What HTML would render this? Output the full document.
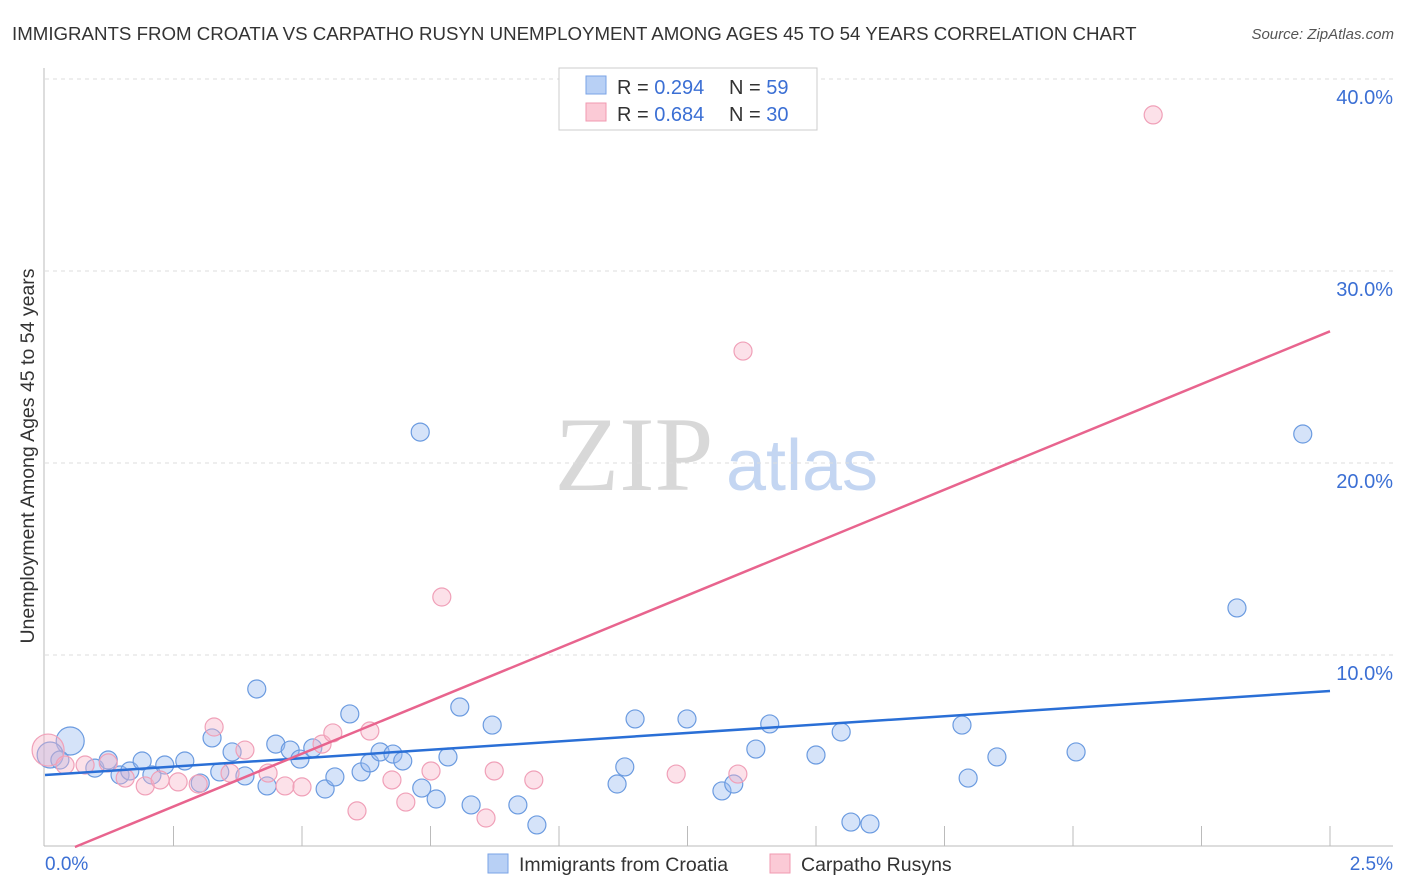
<!DOCTYPE html>
<html><head><meta charset="utf-8"><style>
body{margin:0;background:#fff;font-family:"Liberation Sans",sans-serif}
</style></head><body>
<svg id="c" width="1406" height="892" xmlns="http://www.w3.org/2000/svg" style="display:block">
<text x="12" y="40" font-size="18.7" fill="#333">IMMIGRANTS FROM CROATIA VS CARPATHO RUSYN UNEMPLOYMENT AMONG AGES 45 TO 54 YEARS CORRELATION CHART</text>
<text x="1394" y="39" font-size="15" fill="#555" font-style="italic" text-anchor="end">Source: ZipAtlas.com</text>
<g><text x="634" y="490" font-size="106" font-family="Liberation Serif,serif" fill="#d8d8d8" text-anchor="middle">ZIP</text><text x="802" y="490" font-size="72" fill="#c4d6f2" text-anchor="middle">atlas</text></g>
<text transform="translate(34,456) rotate(-90)" font-size="19.5" fill="#333" text-anchor="middle">Unemployment Among Ages 45 to 54 years</text>
<g id="grid"></g><g id="pts"></g><g id="lines"></g>
<g>
<rect x="559" y="68" width="258" height="62" fill="#fff" stroke="#ccc"/>
<rect x="586" y="76" width="20" height="18" fill="#b8d0f5" stroke="#7aa3e6"/>
<rect x="586" y="103" width="20" height="18" fill="#fbcad6" stroke="#f09ab0"/>
<text x="617" y="94" font-size="20" fill="#333">R = <tspan fill="#3b6fd4">0.294</tspan></text>
<text x="729" y="94" font-size="20" fill="#333">N = <tspan fill="#3b6fd4">59</tspan></text>
<text x="617" y="121" font-size="20" fill="#333">R = <tspan fill="#3b6fd4">0.684</tspan></text>
<text x="729" y="121" font-size="20" fill="#333">N = <tspan fill="#3b6fd4">30</tspan></text>
</g>
<g>
<rect x="488" y="854" width="20" height="19" fill="#b8d0f5" stroke="#7aa3e6"/>
<text x="519" y="871" font-size="19.5" fill="#333">Immigrants from Croatia</text>
<rect x="770" y="854" width="20" height="19" fill="#fbcad6" stroke="#f09ab0"/>
<text x="801" y="871" font-size="19.5" fill="#333">Carpatho Rusyns</text>
</g>
</svg>
<script>
const yTicks=[10,20,30,40];
const xTickLabels=["0.0%","2.5%"];
const blueX=[0.049,0.010,0.029,0.097,0.123,0.146,0.165,0.189,0.208,0.233,0.272,0.302,0.325,0.340,0.364,0.389,0.412,0.432,0.449,0.477,0.496,0.521,0.545,0.564,0.593,0.615,0.632,0.652,0.677,0.696,0.730,0.733,0.761,0.784,0.807,0.829,0.870,0.920,0.957,1.113,1.128,1.148,1.249,1.317,1.340,1.383,1.410,1.500,1.549,1.568,1.605,1.784,1.796,1.852,2.006,2.319,2.447];
const blueY=[5.52,4.79,4.53,4.11,4.53,3.75,3.96,4.48,3.75,4.27,4.48,3.33,5.68,3.91,4.95,3.70,8.23,3.18,5.36,5.05,4.58,5.16,3.02,3.65,6.93,3.91,4.38,4.95,4.84,4.48,21.61,3.07,2.50,4.69,7.29,2.19,6.35,2.19,1.15,3.28,4.17,6.67,6.67,2.92,3.28,5.10,6.41,4.79,5.99,1.30,1.20,6.35,3.59,4.69,4.95,12.45,21.51];
const pinkX=[0.006,0.039,0.078,0.123,0.156,0.195,0.224,0.259,0.298,0.329,0.360,0.389,0.434,0.467,0.500,0.539,0.560,0.607,0.632,0.675,0.702,0.751,0.772,0.858,0.874,0.951,1.228,1.348,1.358,2.156];
const pinkY=[5.05,4.27,4.27,4.38,3.59,3.18,3.49,3.39,3.28,6.25,3.85,5.05,3.85,3.18,3.13,5.36,5.94,1.88,6.04,3.49,2.34,3.96,13.02,1.51,3.96,3.49,3.80,3.80,25.83,38.13];
const blueTrend=[3.75,1.75];   // intercept, slope
const pinkTrend=[-0.64,11.0];
const X=v=>45+v/2.5*1285, Y=v=>847-v*19.2;
const NS="http://www.w3.org/2000/svg";
function mk(t,a,p){const e=document.createElementNS(NS,t);for(const k in a)e.setAttribute(k,a[k]);p.appendChild(e);return e;}
const grid=document.getElementById('grid');
mk('line',{x1:44,y1:68,x2:44,y2:846,stroke:'#bbb'},grid);
mk('line',{x1:44,y1:846,x2:1393,y2:846,stroke:'#bbb'},grid);
yTicks.forEach(t=>{
 const l=mk('line',{x1:45,y1:Y(t),x2:1393,y2:Y(t),stroke:'#ddd','stroke-dasharray':'4,4'},grid);
 
 
 const tx=mk('text',{x:1393,y:Y(t)+25,'font-size':20,fill:'#3b6fd4','text-anchor':'end'},grid);
 tx.textContent=t.toFixed(1)+'%';
 
 
});
for(let i=1;i<=10;i++){const x=X(i*0.25);mk('line',{x1:x,y1:826,x2:x,y2:846,stroke:'#bbb'},grid);}
const xl0=mk('text',{x:45,y:870,'font-size':19,fill:'#3b6fd4'},grid);xl0.textContent=xTickLabels[0];


const xl1=mk('text',{x:1393,y:870,'font-size':19,fill:'#3b6fd4','text-anchor':'end'},grid);xl1.textContent=xTickLabels[1];


const pts=document.getElementById('pts');
blueX.forEach((v,i)=>{const r=i==0?14:i==1?13:9;
 const c=mk('circle',{cx:X(v),cy:Y(blueY[i]),r:r,fill:'rgba(150,186,240,0.4)',stroke:'#6b9be0','stroke-width':1.2},pts);
 
 });
pinkX.forEach((v,i)=>{const r=i==0?16:9;
 const c=mk('circle',{cx:X(v),cy:Y(pinkY[i]),r:r,fill:'rgba(248,180,200,0.4)',stroke:'#f0a0b8','stroke-width':1.2},pts);
 
 });
const lines=document.getElementById('lines');
const bl=mk('line',{x1:X(0),y1:Y(blueTrend[0]),x2:X(2.5),y2:Y(blueTrend[0]+2.5*blueTrend[1]),stroke:'#2a6fd6','stroke-width':2.5},lines);


const x0=-pinkTrend[0]/pinkTrend[1];
const pl=mk('line',{x1:X(x0),y1:Y(0),x2:X(2.5),y2:Y(pinkTrend[0]+2.5*pinkTrend[1]),stroke:'#e8648e','stroke-width':2.5},lines);


</script>
</body></html>
